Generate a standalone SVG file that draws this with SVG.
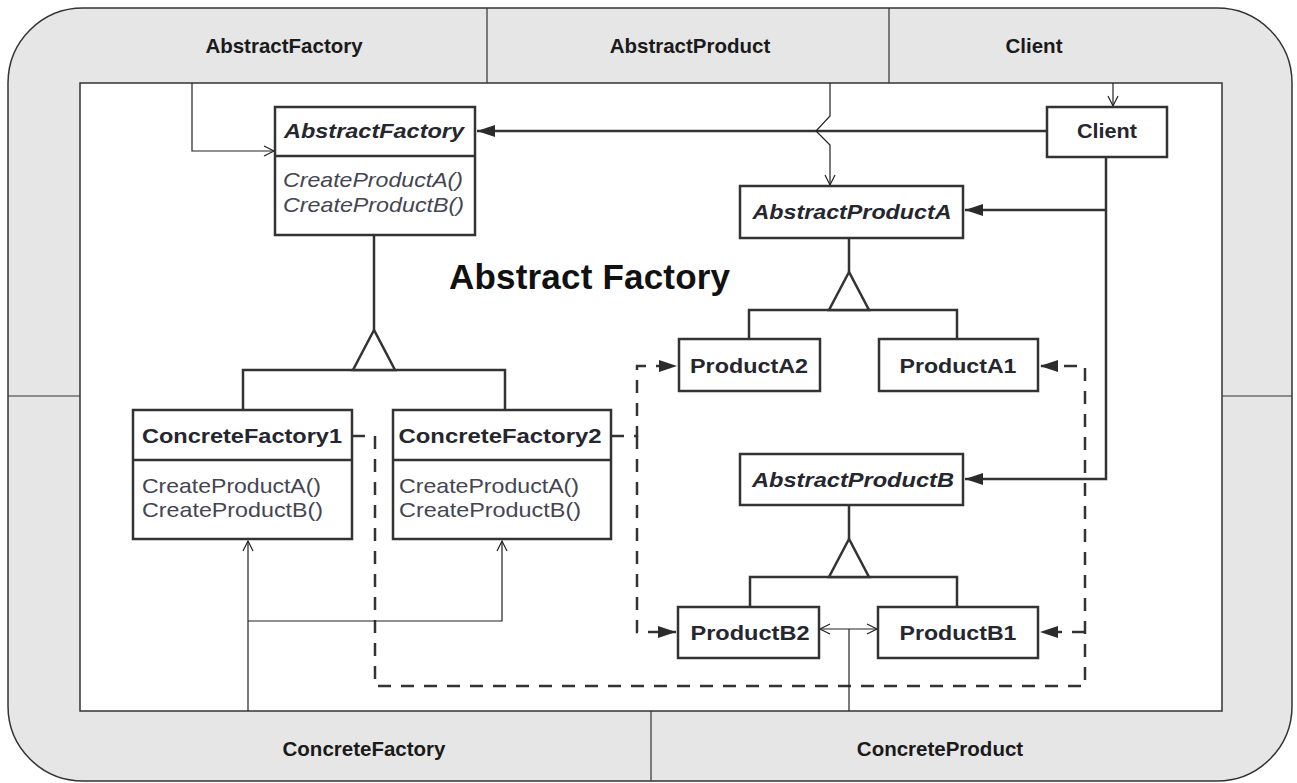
<svg xmlns="http://www.w3.org/2000/svg" width="1297" height="783" viewBox="0 0 1297 783">
  <style>
    .band { fill: #e6e6e6; stroke: #333; stroke-width: 1.5; }
    .stage { fill: #ffffff; stroke: #333; stroke-width: 1.5; }
    .divider { fill: none; stroke: #333; stroke-width: 1.2; }
    .section { font-family: "Liberation Sans", Arial, sans-serif; font-weight: bold; font-size: 20.5px; fill: #1a1a1a; text-anchor: middle; }
    .title { font-family: "Liberation Sans", Arial, sans-serif; font-weight: bold; font-size: 35px; fill: #111; }
    .box { fill: #ffffff; stroke: #333; stroke-width: 2.5; }
    .sep { fill: none; stroke: #333; stroke-width: 2.5; }
    .name { font-family: "Liberation Sans", Arial, sans-serif; font-weight: bold; font-size: 21px; fill: #26262e; text-anchor: middle; }
    .abstract { font-style: italic; }
    .op { font-family: "Liberation Sans", Arial, sans-serif; font-size: 21px; fill: #454552; }
    .rel { fill: none; stroke: #333; stroke-width: 2.5; }
    .dash { fill: none; stroke: #333; stroke-width: 2.5; stroke-dasharray: 13 10; }
    .thin { fill: none; stroke: #222; stroke-width: 1.2; }
    .gen { fill: #ffffff; stroke: #333; stroke-width: 2.5; stroke-linejoin: miter; }
  </style>
  <defs>
    <marker id="filled" markerUnits="userSpaceOnUse" markerWidth="20" markerHeight="14" refX="18" refY="6" orient="auto">
      <path d="M0,0 L18,6 L0,12 z" fill="#2b2b2b"/>
    </marker>
    <marker id="open" markerUnits="userSpaceOnUse" markerWidth="14" markerHeight="14" refX="11" refY="6" orient="auto-start-reverse">
      <path d="M1,1 L11,6 L1,11" fill="none" stroke="#222" stroke-width="1.2"/>
    </marker>
  </defs>

  <!-- frame: grey outer band split into sections, white stage inside -->
  <g id="frame">
    <rect class="band" x="8" y="8" width="1284" height="773" rx="75" ry="75"/>
    <rect class="stage" x="80" y="83" width="1142" height="628"/>
    <path class="divider" d="M487,8 V83 M889,8 V83 M651,711 V781 M8,396 H80 M1222,396 H1292"/>
    <text class="section" x="284" y="53">AbstractFactory</text>
    <text class="section" x="690" y="53">AbstractProduct</text>
    <text class="section" x="1034" y="53">Client</text>
    <text class="section" x="364" y="756">ConcreteFactory</text>
    <text class="section" x="940" y="756">ConcreteProduct</text>
  </g>

  <text class="title" x="449" y="289" textLength="281">Abstract Factory</text>

  <g id="connectors">
    <!-- Client uses the abstract interfaces -->
    <path class="rel" d="M1047,131 H477" marker-end="url(#filled)"/>
    <path class="rel" d="M1106,157 V479 H965" marker-end="url(#filled)"/>
    <path class="rel" d="M1106,210 H965" marker-end="url(#filled)"/>

    <!-- generalisation: AbstractFactory -->
    <path class="rel" d="M374,235 V330 M243,410 V370 H505 V410"/>
    <polygon class="gen" points="374,330 353,370 395,370"/>
    <!-- generalisation: AbstractProductA -->
    <path class="rel" d="M849,238 V272 M749,339 V310 H957 V339"/>
    <polygon class="gen" points="849,272 829,310 869,310"/>
    <!-- generalisation: AbstractProductB -->
    <path class="rel" d="M849,505 V539 M750,607 V577 H957 V607"/>
    <polygon class="gen" points="849,539 829,577 869,577"/>

    <!-- ConcreteFactory2 creates ProductA2 / ProductB2 -->
    <path class="dash" d="M611,436 H637 V366 H677" marker-end="url(#filled)"/>
    <path class="dash" d="M637,436 V632 H676" marker-end="url(#filled)"/>
    <!-- ConcreteFactory1 creates ProductA1 / ProductB1 -->
    <path class="dash" d="M352,436 H375 V686 H1085 V366 H1040" marker-end="url(#filled)"/>
    <path class="dash" d="M1085,632 H1040" stroke-dasharray="none" marker-end="url(#filled)"/>

    <!-- section pointers -->
    <path class="thin" d="M192,83 V151 H274" marker-end="url(#open)"/>
    <path class="thin" d="M1113,83 V106" marker-end="url(#open)"/>
    <path class="thin" d="M830,83 V116 L816,131 L830,145 V185" marker-end="url(#open)"/>
    <path class="thin" d="M248,711 V541" marker-end="url(#open)"/>
    <path class="thin" d="M248,621 H502 V541" marker-end="url(#open)"/>
    <path class="thin" d="M849,711 V629"/>
    <path class="thin" d="M820,629 H877" marker-start="url(#open)" marker-end="url(#open)"/>
  </g>

  <g id="AbstractFactory">
    <rect class="box" x="275" y="107" width="200" height="128"/>
    <path class="sep" d="M275,156 H475"/>
    <text class="name abstract" x="374" y="138" textLength="180" lengthAdjust="spacingAndGlyphs">AbstractFactory</text>
    <text class="op abstract" x="283" y="187" textLength="180" lengthAdjust="spacingAndGlyphs">CreateProductA()</text>
    <text class="op abstract" x="283" y="212" textLength="181" lengthAdjust="spacingAndGlyphs">CreateProductB()</text>
  </g>

  <g id="Client">
    <rect class="box" x="1047" y="107" width="120" height="50"/>
    <text class="name" x="1107" y="138" textLength="60" lengthAdjust="spacingAndGlyphs">Client</text>
  </g>

  <g id="AbstractProductA">
    <rect class="box" x="740" y="186" width="223" height="52"/>
    <text class="name abstract" x="852" y="219" textLength="199" lengthAdjust="spacingAndGlyphs">AbstractProductA</text>
  </g>

  <g id="ProductA2">
    <rect class="box" x="679" y="339" width="141" height="52"/>
    <text class="name" x="749" y="373" textLength="118" lengthAdjust="spacingAndGlyphs">ProductA2</text>
  </g>

  <g id="ProductA1">
    <rect class="box" x="879" y="339" width="159" height="52"/>
    <text class="name" x="958" y="373" textLength="117" lengthAdjust="spacingAndGlyphs">ProductA1</text>
  </g>

  <g id="AbstractProductB">
    <rect class="box" x="740" y="454" width="223" height="51"/>
    <text class="name abstract" x="853" y="487" textLength="202" lengthAdjust="spacingAndGlyphs">AbstractProductB</text>
  </g>

  <g id="ProductB2">
    <rect class="box" x="678" y="607" width="141" height="51"/>
    <text class="name" x="750" y="640" textLength="119" lengthAdjust="spacingAndGlyphs">ProductB2</text>
  </g>

  <g id="ProductB1">
    <rect class="box" x="878" y="607" width="160" height="51"/>
    <text class="name" x="958" y="640" textLength="117" lengthAdjust="spacingAndGlyphs">ProductB1</text>
  </g>

  <g id="ConcreteFactory1">
    <rect class="box" x="133" y="410" width="219" height="129"/>
    <path class="sep" d="M133,460 H352"/>
    <text class="name" x="242" y="443" textLength="200" lengthAdjust="spacingAndGlyphs">ConcreteFactory1</text>
    <text class="op" x="142" y="493" textLength="179" lengthAdjust="spacingAndGlyphs">CreateProductA()</text>
    <text class="op" x="142" y="517" textLength="181" lengthAdjust="spacingAndGlyphs">CreateProductB()</text>
  </g>

  <g id="ConcreteFactory2">
    <rect class="box" x="393" y="410" width="218" height="129"/>
    <path class="sep" d="M393,460 H611"/>
    <text class="name" x="500" y="443" textLength="203" lengthAdjust="spacingAndGlyphs">ConcreteFactory2</text>
    <text class="op" x="399" y="493" textLength="180" lengthAdjust="spacingAndGlyphs">CreateProductA()</text>
    <text class="op" x="399" y="517" textLength="182" lengthAdjust="spacingAndGlyphs">CreateProductB()</text>
  </g>
</svg>
